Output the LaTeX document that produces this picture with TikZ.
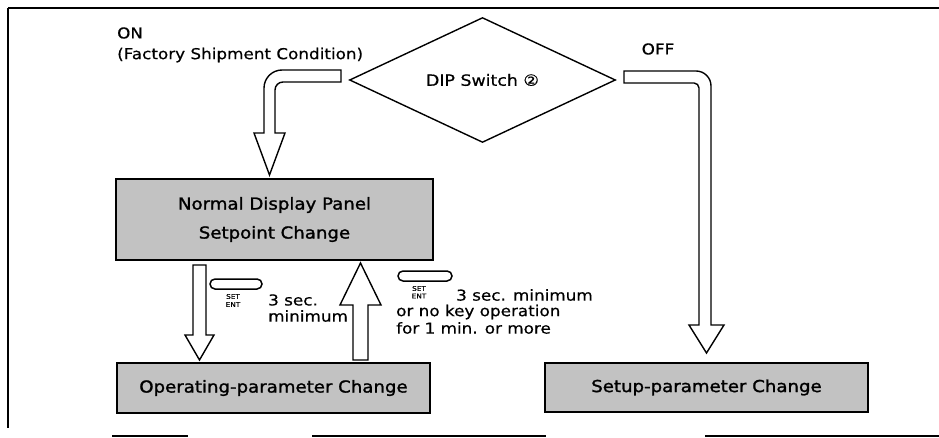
\documentclass[tikz,border=0pt]{standalone}
\usepackage{fontspec}
\setmainfont[FakeStretch=1.12,FakeBold=0.5]{DejaVu Sans}
\newfontfamily\panelfont[FakeStretch=1.1,FakeBold=1.4]{DejaVu Sans}
\usetikzlibrary{shapes.geometric}
\tikzset{
  lbl/.style={font=\fontsize{15}{18}\selectfont, inner sep=0pt},
  tiny/.style={font=\fontsize{6.5}{7}\selectfont, inner sep=0pt},
  panel/.style={draw, line width=1.8pt, fill=black!24, inner sep=0pt, align=center,
                font=\panelfont\fontsize{16.5}{26}\selectfont},
  blockarrow/.style={draw, line width=1.4pt, fill=white, line join=miter},
  keycap/.style={draw, line width=1.5pt, rounded corners=5pt},
  frame/.style={line width=1.5pt}
}
\begin{document}
\begin{tikzpicture}[x=1pt,y=-1pt]
\useasboundingbox (0,0) rectangle (939,438);

% frame
\draw[frame] (8,8) -- (939,8);
\draw[frame] (8,8) -- (8,428);
\draw[frame] (112,436) -- (188,436);
\draw[frame] (312,436) -- (546,436);
\draw[frame] (705,436) -- (939,436);

% decision
\node[draw, diamond, line width=1.4pt, minimum width=266pt, minimum height=114pt, inner sep=0pt,
      font=\fontsize{15.5}{18}\selectfont] (dip) at (482.5,80) {DIP Switch ②};

% boxes
\node[panel, minimum width=317pt, minimum height=81pt] (normal) at (274.5,219.5)
  {\raisebox{3pt}{Normal Display Panel}\\Setpoint Change};
\node[panel, minimum width=313pt, minimum height=50pt] (oper) at (273.5,388)
  {Operating-parameter Change};
\node[panel, minimum width=323pt, minimum height=49pt] (setup) at (706.5,387.5)
  {Setup-parameter Change};

% labels
\node[lbl, anchor=west] (on) at (117,33) {ON};
\node[lbl, anchor=west] (factory) at (117,55) {(Factory Shipment Condition)};
\node[lbl] (off) at (658,49) {OFF};

% ON arrow
\draw[blockarrow] (341,70) -- (282,70) .. controls (272.1,70) and (264,78.1) .. (264,88)
  -- (264,133) -- (254,133) -- (269.5,175) -- (285,133) -- (275,133) -- (275,90)
  .. controls (275,85.6) and (278.6,82) .. (283,82) -- (341,82) -- cycle;

% OFF arrow
\draw[blockarrow] (624,71) -- (696,71) .. controls (704.3,71) and (711,77.7) .. (711,86)
  -- (711,325) -- (724,325) -- (706.5,353) -- (689,325) -- (699,325) -- (699,88)
  .. controls (699,85.2) and (696.8,83) .. (694,83) -- (624,83) -- cycle;

% down arrow normal -> oper
\draw[blockarrow] (193,265) -- (206,265) -- (206,335) -- (214,335) -- (199.5,360)
  -- (185,335) -- (193,335) -- cycle;

% up arrow oper -> normal
\draw[blockarrow] (353,360) -- (353,305) -- (340,305) -- (360.5,263) -- (381,305)
  -- (368,305) -- (368,360) -- cycle;

% key 1
\node[keycap, minimum width=52pt, minimum height=10pt, inner sep=0pt] (key1) at (236,284) {};
\node[tiny] (set1) at (233,296.5) {SET};
\node[tiny] (ent1) at (233,304.5) {ENT};
\node[lbl, anchor=west] (sec1) at (268,300) {3 sec.};
\node[lbl, anchor=west] (min1) at (268,316) {minimum};

% key 2
\node[keycap, minimum width=54pt, minimum height=10pt, inner sep=0pt] (key2) at (425,276) {};
\node[tiny] (set2) at (419,288.5) {SET};
\node[tiny] (ent2) at (419,296) {ENT};
\node[lbl, anchor=west] (sec2) at (456,295) {3 sec. minimum};
\node[lbl, anchor=west] (nokey) at (396,312) {or no key operation};
\node[lbl, anchor=west] (onemin) at (396,328) {for 1 min. or more};
\end{tikzpicture}
\end{document}
